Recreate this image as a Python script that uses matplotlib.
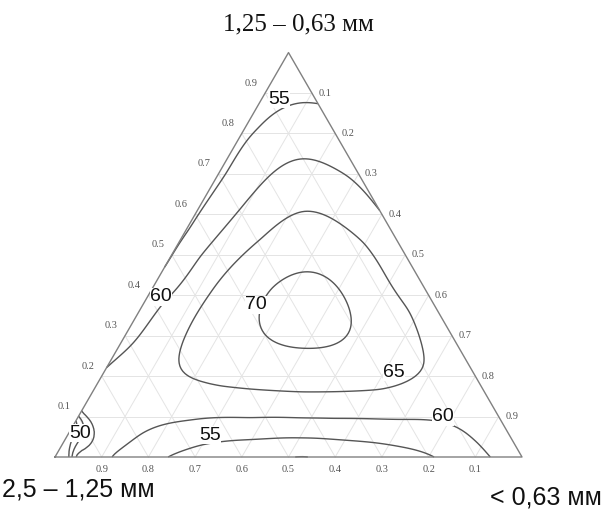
import numpy as np
import matplotlib
matplotlib.use("Agg")
import matplotlib.pyplot as plt
import matplotlib.tri as mtri

# ---- text -------------------------------------------------------------
comp_top = "1,25 – 0,63 мм"     # top vertex component (a)
comp_left = "2,5 – 1,25 мм"     # bottom-left vertex component (b)
comp_right = "< 0,63 мм"        # bottom-right vertex component (c)

tick_values = [0.1, 0.2, 0.3, 0.4, 0.5, 0.6, 0.7, 0.8, 0.9]
tick_labels = ["0.1", "0.2", "0.3", "0.4", "0.5", "0.6", "0.7", "0.8", "0.9"]

contour_levels = [50, 55, 60, 65, 70]

# ---- response values --------------------------------------------------
# a = share of top component, c = share of right component, v = response
# vertices
vert_a = [0.00, 1.00, 0.00]
vert_c = [0.00, 0.00, 1.00]
vert_v = [40, 51, 62]
# left edge (c = 0)
left_a = [0.09, 0.11, 0.15, 0.18, 0.22, 0.30, 0.45, 0.60, 0.80, 0.92]
left_v = [50, 59, 61, 61, 60, 58, 55, 54.5, 54, 52.5]
# bottom edge (a = 0)
bot_c = [0.03, 0.042, 0.07, 0.09, 0.122, 0.18, 0.24, 0.38, 0.53, 0.68, 0.814, 0.88, 0.931]
bot_v = [50, 59, 61, 61.3, 60, 57.5, 55, 51.5, 49.7, 52, 55, 57.8, 60]
# right edge (b = 0)
right_a = [0.95, 0.873, 0.75, 0.60, 0.45, 0.30, 0.15]
right_v = [52.5, 55, 57.8, 60, 61, 61.5, 62]
# interior points on / between the isolines
in_a = [0.882, 0.81, 0.70, 0.56,                                   # 55 upper
        0.70, 0.74, 0.636, 0.50, 0.389,                            # 60 upper
        0.614, 0.537, 0.537, 0.431, 0.307, 0.240, 0.198, 0.171,
        0.158, 0.161, 0.223, 0.371, 0.475,                         # 65
        0.458, 0.322, 0.270, 0.307, 0.334, 0.421, 0.396,           # 70
        0.36,                                                      # top
        0.067, 0.087, 0.092, 0.092, 0.092, 0.042,                  # 60 lower
        0.035, 0.045, 0.025,                                       # 55 lower
        0.042, 0.02,                                               # corner
        0.535, 0.31, 0.214, 0.35, 0.44,
        0.68, 0.40, 0.55, 0.125, 0.13, 0.125, 0.25, 0.15, 0.10, 0.06,
        0.50, 0.30, 0.15,
        0.065, 0.05, 0.058, 0.022,
        0.92, 0.80, 0.50, 0.65]
in_c = [0.090, 0.035, 0.020, 0.010,
        0.28, 0.159, 0.093, 0.058, 0.030,
        0.224, 0.177, 0.40, 0.131, 0.129, 0.143, 0.184, 0.268,
        0.452, 0.615, 0.698, 0.581, 0.458,
        0.302, 0.475, 0.405, 0.292, 0.270, 0.250, 0.419,
        0.37,
        0.149, 0.246, 0.372, 0.55, 0.763, 0.868,
        0.293, 0.502, 0.726,
        0.015, 0.01,
        0.28, 0.21, 0.43, 0.525, 0.19,
        0.20, 0.08, 0.12, 0.45, 0.20, 0.68, 0.07, 0.10, 0.10, 0.08,
        0.47, 0.67, 0.78,
        0.50, 0.25, 0.745, 0.51,
        0.04, 0.10, 0.03, 0.055]
in_v = [55, 55, 55, 55,
        60, 60, 60, 60, 60,
        65, 65, 65, 65, 65, 65, 65, 65,
        65, 65, 65, 65, 65,
        70, 70, 70, 70, 70, 70, 70,
        72,
        60, 60, 60, 60, 60, 60,
        55, 55, 55,
        50, 45,
        67.5, 67.5, 67.5, 67.5, 67.5,
        62.5, 62.5, 62.5, 62.5, 62.5, 62.5, 62.5, 63, 62.5, 62,
        63, 63.5, 62.5,
        57.5, 57.5, 57.5, 52.3,
        53.5, 57.8, 57.5, 57.5]

# contour label places (level, a, c)
label_levels = [55, 60, 70, 65, 60, 55, 50]
label_a = [0.885, 0.396, 0.376, 0.210, 0.099, 0.054, 0.059]
label_c = [0.037, 0.029, 0.242, 0.621, 0.781, 0.305, 0.024]

SQ = np.sqrt(3) / 2


def to_xy(a, c):
    a = np.asarray(a, float)
    c = np.asarray(c, float)
    return c + a / 2, a * SQ


# ---- smooth surface through the read values (smoothing thin-plate spline)
n_vert, n_left, n_bot, n_right = len(vert_a), len(left_a), len(bot_c), len(right_a)
A = np.concatenate([vert_a, left_a, np.zeros(n_bot), right_a, in_a])
C = np.concatenate([vert_c, np.zeros(n_left), bot_c, 1 - np.array(right_a), in_c])
V = np.concatenate([vert_v, left_v, bot_v, right_v, in_v]).astype(float)
PX, PY = to_xy(A, C)
npt = len(V)
on_edge = np.zeros(npt, bool)
on_edge[:n_vert + n_left + n_bot + n_right] = True
corner = (A + C) < 0.13
lam = np.where(corner, 1e-5, np.where(on_edge, 1e-3, 8e-3))


def phi(r):
    with np.errstate(divide="ignore", invalid="ignore"):
        out = r * r * np.log(r)
    return np.nan_to_num(out)


K = phi(np.hypot(PX[:, None] - PX[None, :], PY[:, None] - PY[None, :]))
K += np.diag(lam)
P = np.column_stack([np.ones(npt), PX, PY])
L = np.zeros((npt + 3, npt + 3))
L[:npt, :npt] = K
L[:npt, npt:] = P
L[npt:, :npt] = P.T
sol = np.linalg.solve(L, np.concatenate([V, np.zeros(3)]))
w, v = sol[:npt], sol[npt:]

n = 160
ga, gc = [], []
for i in range(n + 1):
    for j in range(n + 1 - i):
        ga.append(i / n)
        gc.append(j / n)
ga = np.array(ga)
gc = np.array(gc)
gx, gy = to_xy(ga, gc)
G = phi(np.hypot(gx[:, None] - PX[None, :], gy[:, None] - PY[None, :]))
gz = G @ w + v[0] + v[1] * gx + v[2] * gy
tri = mtri.Triangulation(gx, gy)

# ---- figure -----------------------------------------------------------
W, H = 602, 509
fig = plt.figure(figsize=(W / 100, H / 100), dpi=100)
ax = fig.add_axes([0, 0, 1, 1])
S = 467.0
ax.set_xlim(-55 / S, (W - 55) / S)
ax.set_ylim(-52 / S, (H - 52) / S)
ax.axis("off")

grid_col = "#e4e4e4"
for t in tick_values:
    x0, y0 = to_xy(t, 0)
    x1, y1 = to_xy(t, 1 - t)
    ax.plot([x0, x1], [y0, y1], color=grid_col, lw=0.7, zorder=1)
    x0, y0 = to_xy(0, t)
    x1, y1 = to_xy(1 - t, t)
    ax.plot([x0, x1], [y0, y1], color=grid_col, lw=0.7, zorder=1)
    x0, y0 = to_xy(0, 1 - t)
    x1, y1 = to_xy(1 - t, 0)
    ax.plot([x0, x1], [y0, y1], color=grid_col, lw=0.7, zorder=1)

cs = ax.tricontour(tri, gz, levels=contour_levels, colors="#555555",
                   linewidths=1.0, zorder=3)

# contour labels
for lev, la, lc in zip(label_levels, label_a, label_c):
    px, py = to_xy(la, lc)
    ax.text(px, py, "%d" % lev, fontsize=14, family="Liberation Sans",
            color="#111111", ha="center", va="center", zorder=5,
            bbox=dict(fc="white", ec="none", pad=0.2))

# triangle border
vx, vy = to_xy([0, 0, 1, 0], [0, 1, 0, 0])
ax.plot(vx, vy, color="#808080", lw=1.0, zorder=4)

# tick labels
tk = dict(fontsize=7.5, color="#555555", family="Liberation Serif",
          ha="center", va="center")
for t, lab in zip(tick_values, tick_labels):
    x, y = to_xy(t, 0)              # left edge, top component
    ax.text(x - 14 / S, y + 10 / S, lab, **tk)
    x, y = to_xy(1 - t, t)          # right edge, right component
    ax.text(x + 13 / S, y, lab, **tk)
    x, y = to_xy(0, 1 - t)          # bottom edge, left component
    ax.text(x, y - 13 / S, lab, **tk)

# vertex names
xt, yt = to_xy(1, 0)
ax.text(xt + 10 / S, yt + 28 / S, comp_top, fontsize=18, family="Liberation Serif",
        ha="center", va="center", color="#111111")
xl, yl = to_xy(0, 0)
ax.text(xl - 53 / S, yl - 32 / S, comp_left, fontsize=18, family="Liberation Sans",
        ha="left", va="center", color="#111111")
xr, yr = to_xy(0, 1)
ax.text(xr + 80 / S, yr - 40 / S, comp_right, fontsize=18, family="Liberation Sans",
        ha="right", va="center", color="#111111")

fig.savefig("out.png", dpi=100, facecolor="white")
